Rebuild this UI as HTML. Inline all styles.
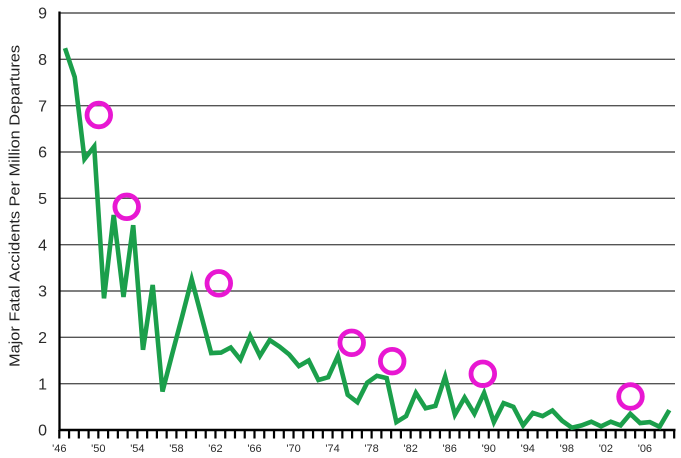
<!DOCTYPE html>
<html>
<head>
<meta charset="utf-8">
<style>
html,body{margin:0;padding:0;background:#fff;}
svg{display:block;}
</style>
</head>
<body>
<svg width="681" height="458" viewBox="0 0 681 458" xmlns="http://www.w3.org/2000/svg">
<rect width="681" height="458" fill="#fff"/>
<!-- gridlines -->
<g stroke="#555" stroke-width="1.4">
<line x1="60" y1="13" x2="675" y2="13"/>
<line x1="60" y1="59.3" x2="675" y2="59.3"/>
<line x1="60" y1="105.7" x2="675" y2="105.7"/>
<line x1="60" y1="152" x2="675" y2="152"/>
<line x1="60" y1="198.3" x2="675" y2="198.3"/>
<line x1="60" y1="244.7" x2="675" y2="244.7"/>
<line x1="60" y1="291" x2="675" y2="291"/>
<line x1="60" y1="337.3" x2="675" y2="337.3"/>
<line x1="60" y1="383.7" x2="675" y2="383.7"/>
</g>
<!-- y tick labels -->
<g font-family="Liberation Sans, sans-serif" font-size="16" fill="#2a2a2a" text-anchor="end">
<text x="47" y="18.7">9</text>
<text x="47" y="65">8</text>
<text x="47" y="111.4">7</text>
<text x="47" y="157.7">6</text>
<text x="47" y="204">5</text>
<text x="47" y="250.4">4</text>
<text x="47" y="296.7">3</text>
<text x="47" y="343">2</text>
<text x="47" y="389.4">1</text>
<text x="47" y="435.7">0</text>
</g>
<!-- y axis title -->
<text transform="translate(19.5,206) rotate(-90)" font-family="Liberation Sans, sans-serif" font-size="14.5" fill="#222" text-anchor="middle" textLength="322" lengthAdjust="spacingAndGlyphs">Major Fatal Accidents Per Million Departures</text>
<!-- axes -->
<line x1="59.5" y1="11.5" x2="59.5" y2="431" stroke="#000" stroke-width="2.3"/>
<line x1="58.5" y1="430" x2="675.5" y2="430" stroke="#000" stroke-width="2.6"/>
<!-- x ticks -->
<g stroke="#000" stroke-width="2.2" id="ticks">
<line x1="59.3" y1="430" x2="59.3" y2="438.5"/><line x1="69.06" y1="430" x2="69.06" y2="438.5"/><line x1="78.82" y1="430" x2="78.82" y2="438.5"/><line x1="88.58" y1="430" x2="88.58" y2="438.5"/>
<line x1="98.34" y1="430" x2="98.34" y2="438.5"/><line x1="108.1" y1="430" x2="108.1" y2="438.5"/><line x1="117.86" y1="430" x2="117.86" y2="438.5"/><line x1="127.62" y1="430" x2="127.62" y2="438.5"/>
<line x1="137.38" y1="430" x2="137.38" y2="438.5"/><line x1="147.14" y1="430" x2="147.14" y2="438.5"/><line x1="156.9" y1="430" x2="156.9" y2="438.5"/><line x1="166.66" y1="430" x2="166.66" y2="438.5"/>
<line x1="176.42" y1="430" x2="176.42" y2="438.5"/><line x1="186.18" y1="430" x2="186.18" y2="438.5"/><line x1="195.94" y1="430" x2="195.94" y2="438.5"/><line x1="205.7" y1="430" x2="205.7" y2="438.5"/>
<line x1="215.46" y1="430" x2="215.46" y2="438.5"/><line x1="225.22" y1="430" x2="225.22" y2="438.5"/><line x1="234.98" y1="430" x2="234.98" y2="438.5"/><line x1="244.74" y1="430" x2="244.74" y2="438.5"/>
<line x1="254.5" y1="430" x2="254.5" y2="438.5"/><line x1="264.26" y1="430" x2="264.26" y2="438.5"/><line x1="274.02" y1="430" x2="274.02" y2="438.5"/><line x1="283.78" y1="430" x2="283.78" y2="438.5"/>
<line x1="293.54" y1="430" x2="293.54" y2="438.5"/><line x1="303.3" y1="430" x2="303.3" y2="438.5"/><line x1="313.06" y1="430" x2="313.06" y2="438.5"/><line x1="322.82" y1="430" x2="322.82" y2="438.5"/>
<line x1="332.58" y1="430" x2="332.58" y2="438.5"/><line x1="342.34" y1="430" x2="342.34" y2="438.5"/><line x1="352.1" y1="430" x2="352.1" y2="438.5"/><line x1="361.86" y1="430" x2="361.86" y2="438.5"/>
<line x1="371.62" y1="430" x2="371.62" y2="438.5"/><line x1="381.38" y1="430" x2="381.38" y2="438.5"/><line x1="391.14" y1="430" x2="391.14" y2="438.5"/><line x1="400.9" y1="430" x2="400.9" y2="438.5"/>
<line x1="410.66" y1="430" x2="410.66" y2="438.5"/><line x1="420.42" y1="430" x2="420.42" y2="438.5"/><line x1="430.18" y1="430" x2="430.18" y2="438.5"/><line x1="439.94" y1="430" x2="439.94" y2="438.5"/>
<line x1="449.7" y1="430" x2="449.7" y2="438.5"/><line x1="459.46" y1="430" x2="459.46" y2="438.5"/><line x1="469.22" y1="430" x2="469.22" y2="438.5"/><line x1="478.98" y1="430" x2="478.98" y2="438.5"/>
<line x1="488.74" y1="430" x2="488.74" y2="438.5"/><line x1="498.5" y1="430" x2="498.5" y2="438.5"/><line x1="508.26" y1="430" x2="508.26" y2="438.5"/><line x1="518.02" y1="430" x2="518.02" y2="438.5"/>
<line x1="527.78" y1="430" x2="527.78" y2="438.5"/><line x1="537.54" y1="430" x2="537.54" y2="438.5"/><line x1="547.3" y1="430" x2="547.3" y2="438.5"/><line x1="557.06" y1="430" x2="557.06" y2="438.5"/>
<line x1="566.82" y1="430" x2="566.82" y2="438.5"/><line x1="576.58" y1="430" x2="576.58" y2="438.5"/><line x1="586.34" y1="430" x2="586.34" y2="438.5"/><line x1="596.1" y1="430" x2="596.1" y2="438.5"/>
<line x1="605.86" y1="430" x2="605.86" y2="438.5"/><line x1="615.62" y1="430" x2="615.62" y2="438.5"/><line x1="625.38" y1="430" x2="625.38" y2="438.5"/><line x1="635.14" y1="430" x2="635.14" y2="438.5"/>
<line x1="644.9" y1="430" x2="644.9" y2="438.5"/><line x1="654.66" y1="430" x2="654.66" y2="438.5"/><line x1="664.42" y1="430" x2="664.42" y2="438.5"/><line x1="674.18" y1="430" x2="674.18" y2="438.5"/>
</g>
<!-- x labels -->
<g font-family="Liberation Sans, sans-serif" font-size="11" fill="#2a2a2a" text-anchor="middle">
<text x="59.3" y="452">'46</text>
<text x="98.34" y="452">'50</text>
<text x="137.38" y="452">'54</text>
<text x="176.42" y="452">'58</text>
<text x="215.46" y="452">'62</text>
<text x="254.5" y="452">'66</text>
<text x="293.54" y="452">'70</text>
<text x="332.58" y="452">'74</text>
<text x="371.62" y="452">'78</text>
<text x="410.66" y="452">'82</text>
<text x="449.7" y="452">'86</text>
<text x="488.74" y="452">'90</text>
<text x="527.78" y="452">'94</text>
<text x="566.82" y="452">'98</text>
<text x="605.86" y="452">'02</text>
<text x="644.9" y="452">'06</text>
</g>
<!-- data line -->
<polyline fill="none" stroke="#1b9f4b" stroke-width="4.6" stroke-linejoin="miter" stroke-miterlimit="4" points="
65,48.2 74.7,77 84.5,159 94.2,146.5 104,298.4 113.7,215 123.5,297 133.2,225.2 143,349.8 152.7,285 162.5,391.5
172.2,354 182,317 191.7,279.4 201.5,316.5 211.2,353.1 221,352.6 230.7,347.5 240.4,359.6 250.2,336 259.9,355.9
269.7,340.1 279.4,346.6 289.2,354.5 298.9,366.1 308.7,360.5 318.4,380 328.2,377.2 337.9,355.9 347.7,394.8 357.4,402.2
367.2,382.7 376.9,375.8 386.7,378.1 396.4,422.1 406.1,416.1 415.9,392.9 425.6,408.2 435.4,405.9 445.1,376.7 454.9,414.7
464.6,397.6 474.4,413.8 484.1,392.9 493.9,422.1 503.6,403.1 513.4,406.8 523.1,425.4 532.9,412.9 542.6,416.1 552.4,410.5
562.1,420.7 571.9,427.7 581.6,425.4 591.3,421.7 601.1,426.3 610.8,421.7 620.6,425.4 630.3,413.8 640.1,423.1 649.8,422.1
659.6,426.8 669.3,410.1"/>
<!-- circles -->
<g fill="none" stroke="#e817d2" stroke-width="4.8">
<circle cx="98.8" cy="115" r="11.8"/>
<circle cx="126.7" cy="206.8" r="11.8"/>
<circle cx="218.8" cy="283.3" r="11.8"/>
<circle cx="351.7" cy="342.8" r="11.8"/>
<circle cx="392.2" cy="361.2" r="11.8"/>
<circle cx="482.8" cy="373.8" r="11.8"/>
<circle cx="630.5" cy="396.5" r="11.8"/>
</g>
</svg>
</body>
</html>
